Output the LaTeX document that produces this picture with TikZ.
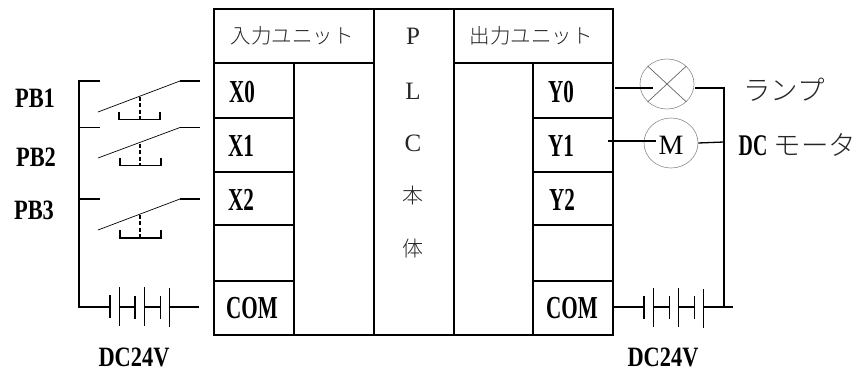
\documentclass[tikz,border=0pt]{standalone}
\usepackage{fontspec}
\setmainfont{Liberation Serif}
\newfontfamily\cjk{Noto Sans CJK JP Light}
\newfontfamily\labelfont[FakeStretch=0.8]{Liberation Serif Bold}
\newfontfamily\portfont[FakeStretch=0.66]{Liberation Serif Bold}
\tikzset{
	txt/.style={inner sep=0pt, outer sep=0pt, text=black},
	unit/.style={txt, font=\fontsize{20.5}{20.5}\selectfont\cjk, text=black!85},
	plc/.style={txt, font=\fontsize{25}{25}\selectfont, text=black!85},
	plcj/.style={txt, font=\fontsize{21}{21}\selectfont\cjk, text=black!85},
	load/.style={txt, font=\fontsize{27.5}{27.5}\selectfont\cjk, text=black!85},
	pb/.style={txt, font=\fontsize{28}{28}\selectfont\labelfont},
	port/.style={txt, font=\fontsize{32}{32}\selectfont\portfont},
	frame/.style={line width=1.7pt},
	wire/.style={line width=1.3pt},
	blade/.style={line width=0.7pt},
	push/.style={line width=1.2pt},
	lead/.style={line width=1.2pt},
	plate/.style={line width=0.8pt},
	device/.style={draw=black!45, line width=0.6pt, ellipse, minimum width=54pt, minimum height=50pt, inner sep=0pt}
}
\usetikzlibrary{shapes.geometric}
\begin{document}
\begin{tikzpicture}[x=1pt,y=-1pt]
	\useasboundingbox (0,0) rectangle (856,371);

	% unit frames
	\draw[frame] (214,9) rectangle (613,335);
	\draw[frame] (214,63) -- (374,63);
	\draw[frame] (454,63) -- (613,63);
	\draw[frame] (374,9) -- (374,335);
	\draw[frame] (454,9) -- (454,335);
	\draw[frame] (294,63) -- (294,335);
	\draw[frame] (533,63) -- (533,335);
	\draw[frame] (214,118) -- (294,118);
	\draw[frame] (214,172) -- (294,172);
	\draw[frame] (214,225) -- (294,225);
	\draw[frame] (214,281) -- (294,281);
	\draw[frame] (533,118) -- (613,118);
	\draw[frame] (533,172) -- (613,172);
	\draw[frame] (533,225) -- (613,225);
	\draw[frame] (533,281) -- (613,281);

	\node[unit] (inunit) at (292,36) {入力ユニット};
	\node[unit] (outunit) at (531,36) {出力ユニット};
	\node[plc] (plcP) at (413,36) {P};
	\node[plc] (plcL) at (413,91) {L};
	\node[plc] (plcC) at (413,143) {C};
	\node[plcj] (plcA) at (413,196) {本};
	\node[plcj] (plcB) at (413,249) {体};

	\node[port] (x0) at (242,92) {X0};
	\node[port] (x1) at (241,146) {X1};
	\node[port] (x2) at (241,200) {X2};
	\node[port] (incom) at (252,308) {COM};
	\node[port] (y0) at (561,92) {Y0};
	\node[port] (y1) at (561,146) {Y1};
	\node[port] (y2) at (562,200) {Y2};
	\node[port] (outcom) at (572,308) {COM};

	\node[pb] (pb1) at (35,98) {PB1};
	\node[pb] (pb2) at (36,157) {PB2};
	\node[pb] (pb3) at (34,210) {PB3};
	\node[pb] (dcin) at (134,357) {DC24V};
	\node[pb] (dcout) at (663,357) {DC24V};

	% input side
	\draw[wire] (100,81) -- (79,81) -- (79,307) -- (110,307);
	\draw[wire] (79,127.5) -- +(21,0);
	\draw[wire] (79,199) -- +(21,0);
	\draw[wire] (180,81) -- +(20,0);
	\draw[wire] (180,127.5) -- +(20,0);
	\draw[wire] (180,199) -- +(20,0);

	\draw[blade] (98,112) -- (180,81);
	\draw[blade] (98,158) -- (180,127.5);
	\draw[blade] (98,230) -- (180,199);
	\draw[push, dash pattern=on 4pt off 2.5pt] (140,97) -- +(0,22);
	\draw[push, dash pattern=on 4pt off 2.5pt] (140,144) -- +(0,21);
	\draw[push, dash pattern=on 4pt off 2.5pt] (140,215) -- +(0,23);
	\draw[push] (119,112) -- ++(0,7.5) -- ++(41,0) -- ++(0,-7.5);
	\draw[push] (120,158) -- ++(0,7.5) -- ++(41,0) -- ++(0,-7.5);
	\draw[push] (120,230) -- ++(0,8) -- ++(41,0) -- ++(0,-8);

	% input battery
	\draw[lead] (110,295) -- +(0,23);
	\draw[plate] (119,287) -- +(0,39);
	\draw[wire] (119,307) -- (135,307);
	\draw[lead] (135,296) -- +(0,23);
	\draw[plate] (144,287) -- +(0,39);
	\draw[wire] (144,307) -- (160,307);
	\draw[plate] (160,296) -- +(0,23);
	\draw[plate] (169,288) -- +(0,39);
	\draw[wire] (170,307) -- (199,307);

	% output side
	\node[device] (lamp) at (667,84) {};
	\node[device] (motor) at (671,143) {};
	\node[txt, font=\fontsize{28}{28}\selectfont] (motorM) at (671,145) {M};
	\draw[blade, draw=black!60] (lamp.north east) -- (lamp.south west);
	\draw[blade, draw=black!60] (lamp.north west) -- (lamp.south east);

	\coordinate (lampin) at (653,88);
	\coordinate (motorin) at (656,141);
	\draw[wire] (615,88) -- (lampin);
	\draw[wire] (608,141) -- (motorin);
	\draw[wire] (695,88) -- (724,88) -- (724,307);
	\draw[wire] (motor.east) -- (724,142);

	% output battery
	\draw[wire] (614,307) -- (644,307);
	\draw[lead] (644,296) -- +(0,23);
	\draw[plate] (653,288) -- +(0,39);
	\draw[wire] (653,307) -- (669,307);
	\draw[plate] (669,296) -- +(0,23);
	\draw[plate] (678,288) -- +(0,39);
	\draw[wire] (678,307) -- (694,307);
	\draw[plate] (694,296) -- +(0,23);
	\draw[plate] (703,289) -- +(0,39);
	\draw[wire] (704,307) -- (733,307);

	\node[load] (lamplabel) at (784,90) {ランプ};
	\node[txt, font=\fontsize{30}{30}\selectfont\portfont] (dclabel) at (753,146) {DC};
	\node[load] (motorlabel) at (815,145) {モータ};
\end{tikzpicture}
\end{document}
